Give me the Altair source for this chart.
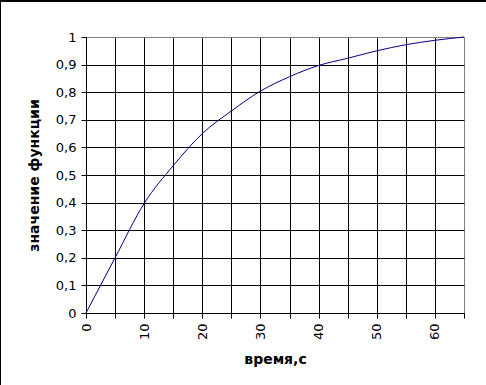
import altair as alt
import pandas as pd

time_s = [0, 5, 10, 15, 20, 25, 30, 35, 40, 45, 50, 55, 60, 65]
values = [0.0, 0.2, 0.397, 0.534, 0.65, 0.732, 0.804, 0.856, 0.897, 0.923, 0.95, 0.972, 0.988, 1.0]
x_ticks = [0, 5, 10, 15, 20, 25, 30, 35, 40, 45, 50, 55, 60, 65]
y_ticks = [0, 0.1, 0.2, 0.3, 0.4, 0.5, 0.6, 0.7, 0.8, 0.9, 1.0]

df = pd.DataFrame({"t": time_s, "v": values})
FONT = "DejaVu Sans"

line = alt.Chart(df).mark_line(color="#000080", strokeWidth=1, interpolate="monotone").encode(
    x=alt.X("t:Q", scale=alt.Scale(domain=[0, 65], nice=False, zero=True),
            axis=alt.Axis(values=x_ticks, title="время,с",
                          labelExpr="datum.value % 10 == 0 ? datum.label : ''",
                          labelAngle=270, labelAlign="right", labelBaseline="middle",
                          labelPadding=5, tickSize=5, tickColor="black",
                          domainColor="black", labelColor="black",
                          labelFont=FONT, labelFontSize=13,
                          titleFont=FONT, titleFontSize=14, titleFontWeight="bold",
                          titleColor="black", titlePadding=13,
                          gridColor={"condition": {"test": "datum.value === 65", "value": "#808080"}, "value": "black"},
                          gridOpacity=1, gridWidth=1)),
    y=alt.Y("v:Q", scale=alt.Scale(domain=[0, 1], nice=False),
            axis=alt.Axis(values=y_ticks, title="значение функции",
                          format=".1~f",
                          labelExpr="replace(datum.label, '.', ',')",
                          labelPadding=5, tickSize=5, tickColor="black",
                          domainColor="black", labelColor="black",
                          labelFont=FONT, labelFontSize=13,
                          titleFont=FONT, titleFontSize=14, titleFontWeight="bold",
                          titleColor="black", titlePadding=14,
                          gridColor={"condition": {"test": "datum.value === 1", "value": "#808080"}, "value": "black"},
                          gridOpacity=1, gridWidth=1)),
)

left_border = alt.Chart(df).mark_rule(color="black", strokeWidth=2, clip=False).encode(
    x=alt.value(-86), y=alt.value(-37), y2=alt.value(348)
)
top_border = alt.Chart(df).mark_rule(color="black", strokeWidth=2, clip=False).encode(
    x=alt.value(-86), x2=alt.value(400), y=alt.value(-36)
)

chart = alt.layer(line, left_border, top_border).properties(
    width=378, height=276,
    autosize=alt.AutoSizeParams(type="none"),
    padding={"left": 86, "top": 37, "right": 22, "bottom": 72},
    background="white",
).configure_view(stroke="#808080", strokeWidth=1)

chart.save("out.html", embed_options={"renderer": "svg", "actions": False})
